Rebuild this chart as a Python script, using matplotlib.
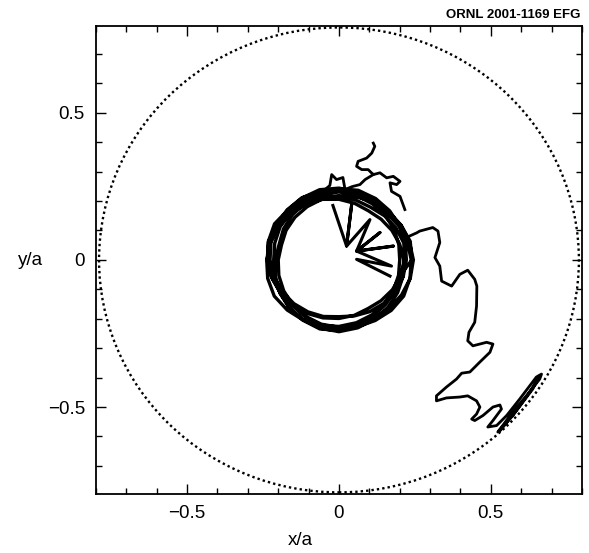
import numpy as np
import matplotlib
matplotlib.use("Agg")
import matplotlib.pyplot as plt
from matplotlib.patches import Circle
from matplotlib.ticker import MultipleLocator

plt.rcParams['font.family'] = ['Liberation Sans', 'DejaVu Sans']

# wall radius (x/a units)
wall_radius = 0.79

# orbit around the core, read in polar form: same sample angles on every loop
ring_angle_deg = [0, 15, 30, 45, 60, 75, 90, 105, 120, 135, 150, 165,
                  180, 195, 210, 225, 240, 255, 270, 285, 300, 315, 330, 345]
ring_radius = [
    [0.240, 0.243, 0.236, 0.231, 0.228, 0.222, 0.218, 0.214, 0.209, 0.205, 0.201, 0.196,
     0.200, 0.205, 0.210, 0.216, 0.221, 0.226, 0.229, 0.235, 0.238, 0.243, 0.246, 0.242],
    [0.238, 0.233, 0.229, 0.224, 0.226, 0.231, 0.236, 0.240, 0.244, 0.241, 0.237, 0.232,
     0.227, 0.221, 0.216, 0.210, 0.204, 0.199, 0.193, 0.197, 0.203, 0.209, 0.215, 0.219],
    [0.222, 0.226, 0.231, 0.236, 0.241, 0.245, 0.242, 0.238, 0.233, 0.228, 0.224, 0.219,
     0.215, 0.219, 0.224, 0.230, 0.235, 0.240, 0.244, 0.239, 0.233, 0.228, 0.223, 0.218],
    [0.213, 0.207, 0.201, 0.196, 0.193, 0.199, 0.206, 0.213, 0.218, 0.223, 0.228, 0.233,
     0.238, 0.243, 0.246, 0.241, 0.236, 0.231, 0.226, 0.221, 0.216, 0.211, 0.207, 0.203],
    [0.200, 0.204, 0.209, 0.215, 0.220, 0.226, 0.231, 0.228, 0.223, 0.217, 0.211, 0.204,
     0.210, 0.217, 0.225, 0.231, 0.237, 0.243, 0.240, 0.234, 0.229, 0.233, 0.238, 0.243],
    [0.245, 0.240, 0.236, 0.231, 0.236, 0.240, 0.244, 0.247, 0.243, 0.239, 0.245, 0.241,
     0.236, 0.230, 0.223, 0.216, 0.210, 0.204, 0.199, 0.195, 0.191, 0.196, 0.203, 0.210],
    [0.216, 0.221, 0.217, 0.212, 0.207, 0.211, 0.216, 0.222, 0.227, 0.232, 0.236, 0.240,
     0.235, 0.229, 0.223, 0.218, 0.223, 0.228, 0.232, 0.227, 0.221, 0.216, 0.212, 0.208],
]

# spokes: jumps from the orbit in toward the axis and back
spoke_x = [-0.020, 0.025, 0.042, 0.025, 0.102, 0.058, 0.135, 0.058,
           0.179, 0.058, 0.173, 0.058, 0.168]
spoke_y = [0.185, 0.047, 0.190, 0.047, 0.137, 0.030, 0.093, 0.030,
           0.047, 0.030, -0.021, 0.002, -0.055]

# wiggles above the orbit
top_x = [0.217, 0.201, 0.173, 0.168, 0.190, 0.201, 0.179, 0.157, 0.135,
         0.113, 0.096, 0.075, 0.058, 0.063, 0.091, 0.108, 0.118, 0.113]
top_y = [0.171, 0.216, 0.233, 0.262, 0.256, 0.267, 0.284, 0.279, 0.296,
         0.290, 0.307, 0.307, 0.318, 0.335, 0.346, 0.363, 0.386, 0.397]
top2_x = [0.113, 0.086, 0.069, 0.043, 0.020, 0.013, -0.008, -0.024,
          -0.030, -0.046]
top2_y = [0.290, 0.273, 0.256, 0.249, 0.239, 0.280, 0.273, 0.290,
          0.253, 0.239]

# excursion out toward the wall
tail_x = [0.230, 0.256, 0.266, 0.309, 0.326, 0.332, 0.316, 0.332, 0.338,
          0.371, 0.398, 0.424, 0.447, 0.454, 0.453, 0.447, 0.428, 0.424,
          0.441, 0.486, 0.507, 0.497, 0.464, 0.431, 0.404, 0.387, 0.354,
          0.321, 0.321, 0.354, 0.398, 0.424, 0.453, 0.464, 0.453, 0.437,
          0.447, 0.474, 0.507, 0.530, 0.535, 0.507, 0.490, 0.519, 0.552,
          0.595, 0.650, 0.667, 0.661, 0.617, 0.572, 0.539, 0.523, 0.572,
          0.628, 0.661, 0.638, 0.579, 0.530]
tail_y = [0.080, 0.092, 0.098, 0.110, 0.098, 0.059, 0.008, -0.021, -0.072,
          -0.089, -0.049, -0.035, -0.066, -0.089, -0.157, -0.212, -0.246, -0.275,
          -0.292, -0.280, -0.286, -0.314, -0.347, -0.381, -0.385, -0.405, -0.432,
          -0.462, -0.479, -0.469, -0.466, -0.462, -0.479, -0.500, -0.524, -0.541,
          -0.546, -0.529, -0.500, -0.493, -0.507, -0.546, -0.568, -0.563, -0.529,
          -0.473, -0.398, -0.388, -0.405, -0.462, -0.517, -0.563, -0.585, -0.529,
          -0.449, -0.394, -0.439, -0.520, -0.581]

x_ticks = [-0.5, 0, 0.5]
x_tick_labels = ['\u22120.5', '0', '0.5']
y_ticks = [-0.5, 0, 0.5]
y_tick_labels = ['\u22120.5', '0', '0.5']

fig = plt.figure(figsize=(5.89, 5.53), dpi=100)
ax = fig.add_axes([0.163, 0.107, 0.825, 0.846])

ax.add_patch(Circle((0, 0), wall_radius, fill=False, color='black',
                    linestyle=(0, (1, 1.3)), lw=1.7))

th = np.deg2rad(np.tile(ring_angle_deg, len(ring_radius)))
r = np.concatenate(ring_radius)
rx = np.append(r * np.cos(th), r[0])
ry = np.append(r * np.sin(th), 0)
ax.plot(rx, ry, color='black', lw=2.4, solid_joinstyle='round')

ax.plot(spoke_x, spoke_y, color='black', lw=2.2)
ax.plot(top_x, top_y, color='black', lw=2)
ax.plot(top2_x, top2_y, color='black', lw=2)
ax.plot(tail_x, tail_y, color='black', lw=2)

ax.set_xlim(-0.8, 0.8)
ax.set_ylim(-0.795, 0.795)
ax.set_xticks(x_ticks)
ax.set_xticklabels(x_tick_labels)
ax.set_yticks(y_ticks)
ax.set_yticklabels(y_tick_labels)
ax.xaxis.set_minor_locator(MultipleLocator(0.1))
ax.yaxis.set_minor_locator(MultipleLocator(0.1))
ax.tick_params(which='both', direction='in', top=True, right=True,
               labelsize=13.5, pad=8, width=1)
ax.tick_params(which='major', length=7)
ax.tick_params(which='minor', length=4)
for s in ax.spines.values():
    s.set_linewidth(1.3)

fig.text(0.51, 0.022, 'x/a', fontsize=13.5, ha='center', va='center')
fig.text(0.051, 0.529, 'y/a', fontsize=13.5, ha='center', va='center')
fig.text(0.985, 0.972, 'ORNL 2001-1169 EFG', fontsize=9.5,
         fontweight='bold', ha='right', va='center')

fig.savefig('out.png', dpi=100)
